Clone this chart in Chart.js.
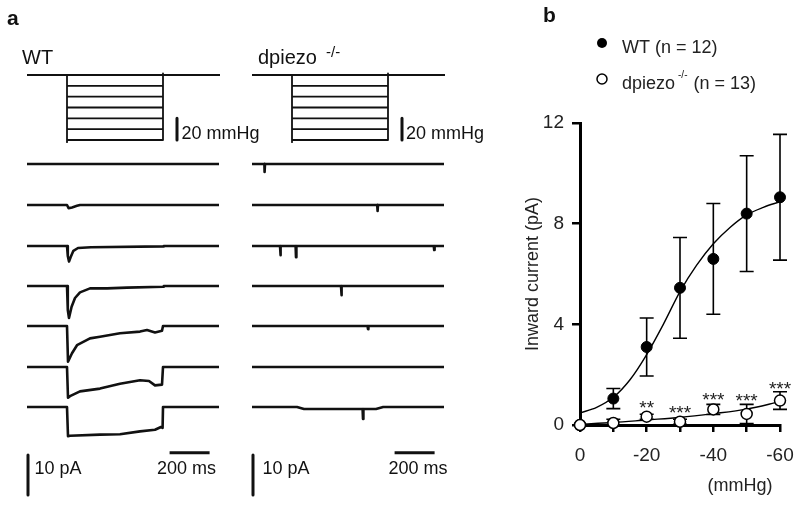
<!DOCTYPE html>
<html>
<head>
<meta charset="utf-8">
<title>Piezo currents</title>
<script src="https://cdn.jsdelivr.net/npm/chart.js"></script>
<style>
    body { margin: 0; background: #fff; }
    #wrap { position: relative; width: 800px; height: 506px; }
    canvas { position: absolute; top: 0; }
    #tracesChart { left: 0; }
    #ivChart { left: 500px; }
</style>
</head>
<body>
<div id="wrap">
    <canvas id="tracesChart" width="500" height="506"></canvas>
    <canvas id="ivChart" width="300" height="506"></canvas>
</div>
<script>
// ---------- panel b: I-P relation ----------
var pressures = [0, -10, -20, -30, -40, -50, -60];           // mmHg
var wtMean = [0, 1.05, 3.1, 5.45, 6.6, 8.4, 9.05];          // pA
var wtErr  = [0, 0.4, 1.15, 2.0, 2.2, 2.3, 2.5];
var koMean = [0, 0.08, 0.33, 0.13, 0.62, 0.44, 0.97];
var koErr  = [0, 0.15, 0.1, 0.1, 0.2, 0.38, 0.35];
var koStars = ['', '', '**', '***', '***', '***', '***'];
// fitted curves
var wtFitX = [0, -5, -10, -15, -20, -25, -30, -35, -40, -45, -50, -55, -60];
var wtFitY = [0.48, 0.7, 1.1, 1.8, 2.8, 4.0, 5.3, 6.35, 7.2, 7.85, 8.35, 8.65, 8.87];
var koFitX = [0, -10, -20, -30, -40, -50, -60];
var koFitY = [0.03, 0.1, 0.2, 0.3, 0.45, 0.63, 0.93];
var yTicks = [0, 4, 8, 12];

// ---------- panel a: pressure protocol and current traces ----------
var protocolLevels = [0, -10, -20, -30, -40, -50, -60];      // mmHg
var stepOn = 200, stepOff = 680, sweepEnd = 960;              // ms
// [time ms, current pA], one trace per pressure step
var wtTraces = [
    [[0, 0], [960, 0]],
    [[0, 0], [200, 0], [208, -0.8], [225, -0.6], [250, -0.2], [265, 0], [960, 0]],
    [[0, 0], [200, 0], [204, -2.5], [210, -3.9], [218, -2.8], [232, -1.2], [255, -0.5], [320, -0.3], [680, -0.1], [684, 0], [960, 0]],
    [[0, 0], [200, 0], [204, -6], [210, -8.0], [223, -5.2], [240, -3.0], [265, -1.6], [315, -0.6], [400, -0.6], [500, -0.4], [680, -0.2], [684, 0], [960, 0]],
    [[0, 0], [200, 0], [205, -8.9], [225, -6.8], [250, -4.8], [315, -3.1], [365, -2.7], [465, -1.8], [565, -1.4], [600, -1.0], [640, -1.6], [675, -1.2], [680, 0], [960, 0]],
    [[0, 0], [200, 0], [205, -7.7], [215, -7.3], [265, -6.1], [365, -5.4], [465, -4.2], [565, -3.3], [610, -3.5], [640, -4.6], [675, -4.4], [680, 0], [960, 0]],
    [[0, 0], [200, 0], [205, -7.3], [215, -7.2], [365, -6.9], [465, -6.8], [565, -6.1], [640, -5.7], [670, -5.0], [678, -5.2], [680, 0], [960, 0]]
];
var koTraces = [
    [[0, 0], [62, 0], [63, -2.0], [65, 0], [960, 0]],
    [[0, 0], [626, 0], [628, -1.5], [630, 0], [960, 0]],
    [[0, 0], [140, 0], [142, -2.3], [144, 0], [218, 0], [220, -2.8], [222, 0], [909, 0], [911, -1.0], [913, 0], [960, 0]],
    [[0, 0], [445, 0], [447, -2.3], [449, 0], [960, 0]],
    [[0, 0], [578, 0], [580, -0.8], [582, 0], [960, 0]],
    [[0, 0], [960, 0]],
    [[0, 0], [225, 0], [260, -0.5], [553, -0.5], [555, -3.0], [557, -0.5], [620, -0.5], [656, 0], [960, 0]]
];

// layout of panel a (canvas pixels)
var PX_PER_MS = 0.2, PX_PER_PA = 4, PX_PER_MMHG = 65 / 60;
var rowPx = [164, 205, 246, 286, 326, 367, 407];
var protocolZeroPx = 75;
var columnT0 = [27 / PX_PER_MS, 252 / PX_PER_MS];   // ms offset of each column

Chart.defaults.font.family = '"Liberation Sans", Arial, sans-serif';
Chart.defaults.color = '#111';

function pA(px) { return -px / PX_PER_PA; }

var traceSets = [];
[wtTraces, koTraces].forEach(function (traces, c) {
    var t0 = columnT0[c];
    traces.forEach(function (tr, r) {
        traceSets.push({
            data: tr.map(function (p) { return { x: t0 + p[0], y: pA(rowPx[r]) + p[1] }; }),
            showLine: true, borderWidth: 2.6
        });
    });

    // pressure protocol
    var prot = [{ x: t0, y: 0 }, { x: t0 + sweepEnd + 5, y: 0 }, { x: t0, y: null }];
    protocolLevels.forEach(function (lv) {
        if (lv === 0) return;
        prot.push({ x: t0 + stepOn, y: lv }, { x: t0 + stepOff, y: lv }, { x: t0, y: null });
    });
    var lowest = Math.min.apply(null, protocolLevels);
    prot.push({ x: t0 + stepOn, y: 0 }, { x: t0 + stepOn, y: lowest - 2 }, { x: t0, y: null });
    prot.push({ x: t0 + stepOff, y: 1.5 }, { x: t0 + stepOff, y: lowest });
    traceSets.push({ data: prot, yAxisID: 'yP', showLine: true, spanGaps: false, borderWidth: 1.8 });

    // scale bars
    traceSets.push({ data: [{ x: t0 + 750, y: -40 }, { x: t0 + 750, y: -60 }], yAxisID: 'yP', showLine: true, borderWidth: 3 });
    traceSets.push({ data: [{ x: t0 + 5, y: pA(455) }, { x: t0 + 5, y: pA(455) - 10 }], showLine: true, borderWidth: 3 });
    traceSets.push({ data: [{ x: t0 + 713, y: pA(452.7) }, { x: t0 + 913, y: pA(452.7) }], showLine: true, borderWidth: 3 });
});

var labelsA = {
    id: 'labelsA',
    afterDraw: function (chart) {
        var ctx = chart.ctx;
        ctx.save();
        ctx.fillStyle = '#111';
        ctx.textBaseline = 'alphabetic';
        ctx.font = 'bold 21px "Liberation Sans", Arial, sans-serif';
        ctx.fillText('a', 7, 25);
        ctx.font = '20px "Liberation Sans", Arial, sans-serif';
        ctx.fillText('WT', 22, 64);
        ctx.fillText('dpiezo', 258, 64);
        ctx.font = '15px "Liberation Sans", Arial, sans-serif';
        ctx.fillText('-/-', 326, 57);
        ctx.font = '18px "Liberation Sans", Arial, sans-serif';
        ctx.fillText('20 mmHg', 181.5, 138.5);
        ctx.fillText('20 mmHg', 406, 138.5);
        ctx.fillText('10 pA', 34.5, 474);
        ctx.fillText('10 pA', 262.5, 474);
        ctx.fillText('200 ms', 157, 474);
        ctx.fillText('200 ms', 388.5, 474);
        ctx.restore();
    }
};

var yPMax = protocolZeroPx / PX_PER_MMHG;
new Chart(document.getElementById('tracesChart'), {
    type: 'scatter',
    data: { datasets: traceSets },
    options: {
        responsive: false,
        animation: false,
        devicePixelRatio: 1,
        layout: { padding: 0 },
        plugins: { legend: { display: false }, tooltip: { enabled: false } },
        elements: {
            point: { radius: 0 },
            line: { borderColor: '#111', tension: 0, borderJoinStyle: 'round', fill: false }
        },
        scales: {
            x: { type: 'linear', display: false, min: 0, max: 500 / PX_PER_MS },
            y: { type: 'linear', display: false, min: -506 / PX_PER_PA, max: 0 },
            yP: { type: 'linear', display: false, min: yPMax - 506 / PX_PER_MMHG, max: yPMax }
        }
    },
    plugins: [labelsA]
});

// ---------- panel b chart ----------
var ivDecor = {
    id: 'ivDecor',
    beforeDatasetsDraw: function (chart) {
        var ctx = chart.ctx, xs = chart.scales.x, ys = chart.scales.y;
        ctx.save();
        ctx.strokeStyle = '#000';
        ctx.lineWidth = 1.6;
        [[wtMean, wtErr], [koMean, koErr]].forEach(function (s) {
            pressures.forEach(function (p, i) {
                var e = s[1][i];
                if (!e) return;
                var x = xs.getPixelForValue(p);
                var yt = ys.getPixelForValue(s[0][i] + e);
                var yb = ys.getPixelForValue(Math.max(0, s[0][i] - e));
                ctx.beginPath();
                ctx.moveTo(x, yt); ctx.lineTo(x, yb);
                ctx.moveTo(x - 7, yt); ctx.lineTo(x + 7, yt);
                ctx.moveTo(x - 7, yb); ctx.lineTo(x + 7, yb);
                ctx.stroke();
            });
        });
        ctx.restore();
    },
    afterDraw: function (chart) {
        var ctx = chart.ctx, xs = chart.scales.x, ys = chart.scales.y;
        ctx.save();
        ctx.fillStyle = '#222';
        ctx.textBaseline = 'alphabetic';

        // significance stars
        ctx.textAlign = 'center';
        ctx.font = '19px "Liberation Sans", Arial, sans-serif';
        pressures.forEach(function (p, i) {
            if (!koStars[i]) return;
            var top = Math.min(ys.getPixelForValue(koMean[i] + koErr[i]), ys.getPixelForValue(koMean[i]) - 6);
            ctx.fillText(koStars[i], xs.getPixelForValue(p), top + 3);
        });

        // x unit
        ctx.font = '18px "Liberation Sans", Arial, sans-serif';
        ctx.fillText('(mmHg)', 240, 491);

        // panel letter
        ctx.textAlign = 'left';
        ctx.font = 'bold 21px "Liberation Sans", Arial, sans-serif';
        ctx.fillStyle = '#111';
        ctx.fillText('b', 43, 22);

        // legend
        ctx.fillStyle = '#000';
        ctx.beginPath(); ctx.arc(102, 43, 5, 0, Math.PI * 2); ctx.fill();
        ctx.beginPath(); ctx.arc(102, 79, 5, 0, Math.PI * 2);
        ctx.fillStyle = '#fff'; ctx.fill();
        ctx.lineWidth = 1.5; ctx.strokeStyle = '#000'; ctx.stroke();
        ctx.fillStyle = '#222';
        ctx.font = '18px "Liberation Sans", Arial, sans-serif';
        ctx.fillText('WT (n = 12)', 122, 53);
        ctx.fillText('dpiezo', 122, 89);
        var w = ctx.measureText('dpiezo').width;
        ctx.font = '10px "Liberation Sans", Arial, sans-serif';
        ctx.fillText('-/-', 122 + w + 3, 78);
        var w2 = ctx.measureText('-/-').width;
        ctx.font = '18px "Liberation Sans", Arial, sans-serif';
        ctx.fillText('(n = 13)', 122 + w + 3 + w2 + 6, 89);
        ctx.restore();
    }
};

function pts(xs, ys) { return xs.map(function (x, i) { return { x: x, y: ys[i] }; }); }

new Chart(document.getElementById('ivChart'), {
    type: 'scatter',
    data: {
        datasets: [
            { label: 'dpiezo -/-', data: pts(pressures, koMean), pointRadius: 5.5, pointBackgroundColor: '#fff',
              pointBorderColor: '#000', pointBorderWidth: 1.5, clip: false },
            { label: 'WT', data: pts(pressures, wtMean), pointRadius: 5.5, pointBackgroundColor: '#000',
              pointBorderColor: '#000', pointBorderWidth: 1, clip: false },
            { label: 'WT fit', data: pts(wtFitX, wtFitY), showLine: true, pointRadius: 0, borderColor: '#000',
              borderWidth: 1.4, cubicInterpolationMode: 'monotone' },
            { label: 'dpiezo fit', data: pts(koFitX, koFitY), showLine: true, pointRadius: 0, borderColor: '#000',
              borderWidth: 1.4, cubicInterpolationMode: 'monotone' }
        ]
    },
    options: {
        responsive: false,
        animation: false,
        devicePixelRatio: 1,
        layout: { padding: { left: 0, right: 20, top: 123, bottom: 0 } },
        plugins: { legend: { display: false }, tooltip: { enabled: false } },
        scales: {
            x: {
                type: 'linear', reverse: true, min: -60, max: 0, z: 1,
                afterBuildTicks: function (s) { s.ticks = pressures.map(function (v) { return { value: v }; }); },
                afterFit: function (s) {
                    s.height = 506 - 425;
                    s.paddingLeft = 0;
                    s.paddingRight = 0;
                },
                ticks: {
                    autoSkip: false, maxRotation: 0, padding: 12, color: '#222', font: { size: 19 },
                    callback: function (v) { return v % 20 === 0 ? String(v) : ''; }
                },
                grid: { drawOnChartArea: false, tickLength: 7, lineWidth: 2.5, color: '#000' },
                border: { width: 3, color: '#000' }
            },
            y: {
                type: 'linear', min: 0, max: 12, z: 1,
                afterBuildTicks: function (s) { s.ticks = yTicks.map(function (v) { return { value: v }; }); },
                afterFit: function (s) { s.width = 80; s.paddingTop = 0; s.paddingBottom = 0; },
                ticks: { padding: 8, color: '#222', font: { size: 19 } },
                grid: { drawOnChartArea: false, tickLength: 8, lineWidth: 2.5, color: '#000' },
                border: { width: 3, color: '#000' },
                title: { display: true, text: 'Inward current (pA)', color: '#222', font: { size: 18 },
                         padding: { top: 22, bottom: 0 } }
            }
        }
    },
    plugins: [ivDecor]
});
</script>
</body>
</html>
